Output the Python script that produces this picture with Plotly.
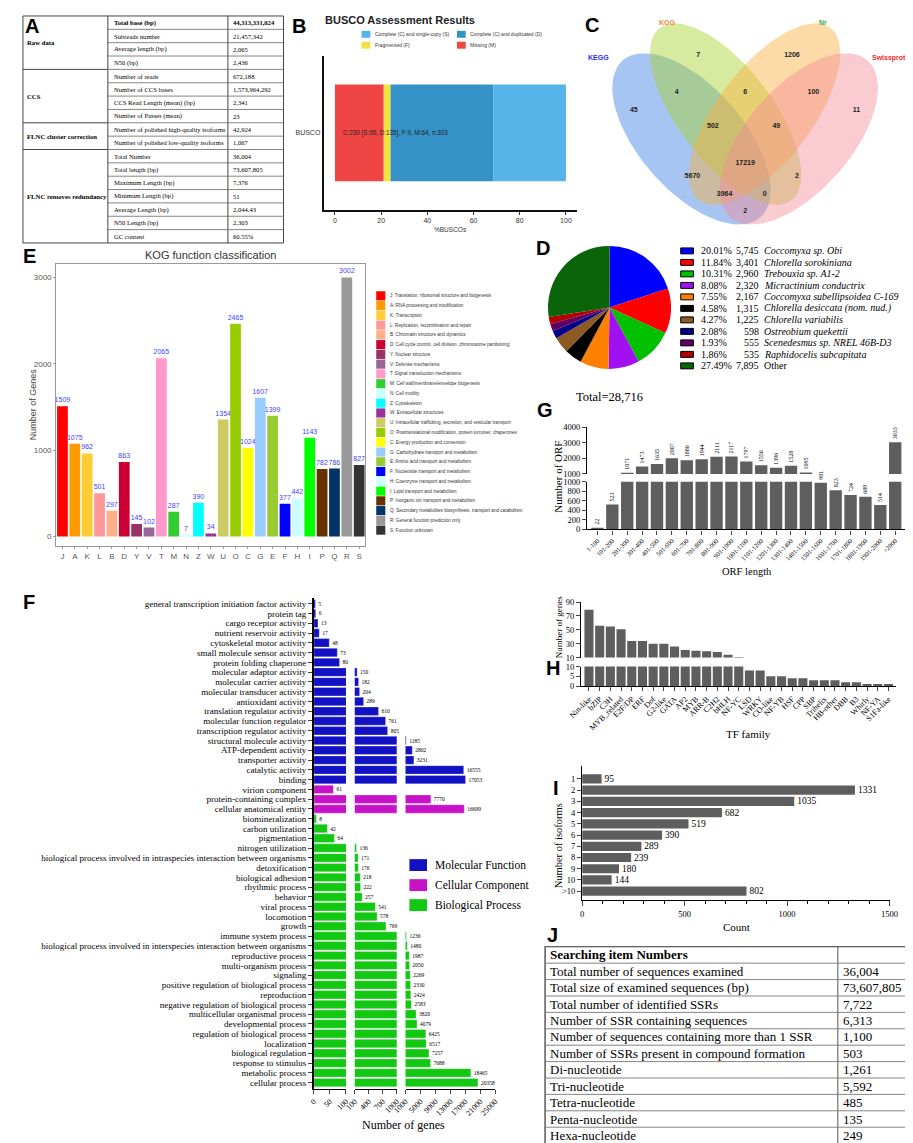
import math
import plotly.graph_objects as go

W, H = 913, 1143
def fx(p): return p / W
def fy(p): return 1 - p / H
SERIF = "Liberation Serif"
SANS = "Liberation Sans"

# ================= DATA =================
# A: sequencing summary
a_groups = ["Raw data", "CCS", "FLNC cluster correction", "FLNC removes redundancy"]
a_group_sizes = [4, 4, 2, 7]
a_items = ["Total base (bp)", "Subreads number", "Average length (bp)", "N50 (bp)",
           "Number of reads", "Number of CCS bases", "CCS Read Length (mean) (bp)", "Number of Passes (mean)",
           "Number of polished high-quality isoforms", "Number of polished low-quality isoforms",
           "Total Number", "Total length (bp)", "Maximum Length (bp)", "Minimum Length (bp)",
           "Average Length (bp)", "N50 Length (bp)", "GC content"]
a_values = ["44,313,331,024", "21,457,342", "2,065", "2,436", "672,188", "1,573,964,292", "2,341", "23",
            "42,924", "1,067", "36,004", "73,607,805", "7,376", "51", "2,044.43", "2,303", "60.55%"]

# B: BUSCO
busco_names = ["Missing (M)", "Fragmented (F)", "Complete (C) and duplicated (D)", "Complete (C) and single-copy (S)"]
busco_counts = [64, 9, 135, 95]
busco_colors = ["#F04545", "#F0E442", "#3492C7", "#56B4E9"]

# C: Venn
venn_sets = ["KEGG", "KOG", "Nr", "Swissprot"]
venn_set_colors = ["#2B2BF0", "#F08A3C", "#3DAA3D", "#F02A2A"]
venn_fill = ["rgba(58,127,229,0.45)", "rgba(167,211,44,0.45)", "rgba(251,175,62,0.45)", "rgba(243,140,151,0.45)"]
venn_region_counts = [45, 7, 1206, 11, 4, 6, 100, 502, 49, 17219, 5670, 2, 3964, 0, 2]

# E: KOG
kog_codes = ["J", "A", "K", "L", "B", "D", "Y", "V", "T", "M", "N", "Z", "W", "U", "O", "C", "G", "E", "F", "H", "I", "P", "Q", "R", "S"]
kog_counts = [1509, 1075, 962, 501, 297, 863, 145, 102, 2065, 287, 7, 390, 34, 1354, 2465, 1024, 1607, 1399, 377, 442, 1143, 782, 786, 3002, 827]
kog_desc = ["Translation, ribosomal structure and biogenesis", "RNA processing and modification", "Transcription",
            "Replication, recombination and repair", "Chromatin structure and dynamics",
            "Cell cycle control, cell division, chromosome partitioning", "Nuclear structure", "Defense mechanisms",
            "Signal transduction mechanisms", "Cell wall/membrane/envelope biogenesis", "Cell motility", "Cytoskeleton",
            "Extracellular structures", "Intracellular trafficking, secretion, and vesicular transport",
            "Posttranslational modification, protein turnover, chaperones", "Energy production and conversion",
            "Carbohydrate transport and metabolism", "Amino acid transport and metabolism",
            "Nucleotide transport and metabolism", "Coenzyme transport and metabolism", "Lipid transport and metabolism",
            "Inorganic ion transport and metabolism", "Secondary metabolites biosynthesis, transport and catabolism",
            "General function prediction only", "Function unknown"]
kog_colors = ["#FF0000", "#FF9900", "#FFCC33", "#FF9999", "#FFB08A", "#CC0033", "#993366", "#996699", "#FF99CC",
              "#33CC33", "#CCFFFF", "#00FFFF", "#993399", "#CCCC66", "#99CC00", "#FFFF00", "#99CCFF", "#99CC33",
              "#0000FF", "#CCFFFF", "#00FF00", "#663300", "#003366", "#999999", "#333333"]

# D: species distribution
d_species = ["Coccomyxa sp. Obi", "Chlorella sorokiniana", "Trebouxia sp. A1-2", "Micractinium conductrix",
             "Coccomyxa subellipsoidea C-169", "Chlorella desiccata (nom. nud.)", "Chlorella variabilis",
             "Ostreobium quekettii", "Scenedesmus sp. NREL 46B-D3", "Raphidocelis subcapitata", "Other"]
d_counts = [5745, 3401, 2960, 2320, 2167, 1315, 1225, 598, 555, 535, 7895]
d_pcts = ["20.01%", "11.84%", "10.31%", "8.08%", "7.55%", "4.58%", "4.27%", "2.08%", "1.93%", "1.86%", "27.49%"]
d_colors = ["#0000FF", "#FF0000", "#00C000", "#A010F0", "#FF8000", "#000000", "#8C5A22", "#00008B",
            "#600060", "#B00000", "#0A640A"]

# G: ORF length
orf_bins = ["1-100", "101-200", "201-300", "301-400", "401-500", "501-600", "601-700", "701-800", "801-900",
            "901-1000", "1001-1100", "1101-1200", "1201-1300", "1301-1400", "1401-1500", "1501-1600",
            "1601-1700", "1701-1800", "1801-1900", "1901-2000", ">2000"]
orf_counts = [22, 523, 1071, 1473, 1635, 2007, 1886, 1944, 2111, 2117, 1797, 1556, 1396, 1528, 1095, 981, 823,
              724, 689, 514, 3033]

# H: TF families
tf_families = ["Nin-like", "bZIP", "C3H", "MYB_related", "E2F/DP", "ERF", "Dof", "G2-like", "GATA", "AP2", "MYB",
               "ARR-B", "C2H2", "bHLH", "NF-YC", "LSD", "WRKY", "CO-like", "NF-YB", "HSF", "CPP", "SBP",
               "Trihelix", "HB-other", "DBB", "B3", "Whirly", "NF-YA", "S1Fa-like"]
tf_counts = [79, 56, 55, 51, 34, 34, 30, 30, 26, 21, 20, 19, 18, 14, 11, 8, 8, 5, 5, 4, 4, 3, 3, 3, 2, 2, 1, 1, 1]

# I: isoforms per gene
iso_cats = ["1", "2", "3", "4", "5", "6", "7", "8", "9", "10", ">10"]
iso_counts = [95, 1331, 1035, 682, 519, 390, 289, 239, 180, 144, 802]

# F: GO classification
go_mf_terms = ["general transcription initiation factor activity", "protein tag", "cargo receptor activity",
               "nutrient reservoir activity", "cytoskeletal motor activity", "small molecule sensor activity",
               "protein folding chaperone", "molecular adaptor activity", "molecular carrier activity",
               "molecular transducer activity", "antioxidant activity", "translation regulator activity",
               "molecular function regulator", "transcription regulator activity", "structural molecule activity",
               "ATP-dependent activity", "transporter activity", "catalytic activity", "binding"]
go_mf_counts = [5, 6, 13, 17, 48, 73, 80, 150, 182, 204, 289, 610, 761, 805, 1185, 2802, 3231, 16555, 17053]
go_cc_terms = ["virion component", "protein-containing complex", "cellular anatomical entity"]
go_cc_counts = [61, 7770, 16699]
go_bp_terms = ["biomineralization", "carbon utilization", "pigmentation", "nitrogen utilization",
               "biological process involved in intraspecies interaction between organisms", "detoxification",
               "biological adhesion", "rhythmic process", "behavior", "viral process", "locomotion", "growth",
               "immune system process", "biological process involved in interspecies interaction between organisms",
               "reproductive process", "multi-organism process", "signaling",
               "positive regulation of biological process", "reproduction",
               "negative regulation of biological process", "multicellular organismal process",
               "developmental process", "regulation of biological process", "localization",
               "biological regulation", "response to stimulus", "metabolic process", "cellular process"]
go_bp_counts = [8, 42, 64, 136, 171, 176, 218, 222, 257, 541, 578, 769, 1236, 1480, 1987, 2050, 2269, 2330, 2424,
                2583, 3820, 4079, 6425, 6517, 7257, 7688, 18465, 20358]
go_groups = ["Molecular Function", "Cellular Component", "Biological Process"]
go_colors = ["#1212C4", "#C812C8", "#12C812"]
go_breaks = [(0, 100), (100, 1000), (1000, 25000)]
go_tickvals = [[0, 50, 100], [100, 400, 700, 1000], [1000, 5000, 9000, 13000, 17000, 21000, 25000]]

# J: SSR table
ssr_header = "Searching item Numbers"
ssr_items = ["Total number of sequences examined", "Total size of examined sequences (bp)",
             "Total number of identified SSRs", "Number of SSR containing sequences",
             "Number of sequences containing more than 1 SSR", "Number of SSRs present in compound formation",
             "Di-nucleotide", "Tri-nucleotide", "Tetra-nucleotide", "Penta-nucleotide", "Hexa-nucleotide"]
ssr_values = ["36,004", "73,607,805", "7,722", "6,313", "1,100", "503", "1,261", "5,592", "485", "135", "249"]

# ================= HELPERS =================
fig = go.Figure()
shapes, annos = [], []

def T(px, py, s, size, color="#000", family=SERIF, xa="left", ya="middle", angle=0):
    annos.append(dict(x=fx(px), y=fy(py), xref="paper", yref="paper", text=s, showarrow=False,
                      font=dict(size=size, color=color, family=family), xanchor=xa, yanchor=ya,
                      textangle=angle, borderpad=0))

def L(x0, y0, x1, y1, color="#555", w=1.0):
    shapes.append(dict(type="line", xref="paper", yref="paper", x0=fx(x0), y0=fy(y0), x1=fx(x1), y1=fy(y1),
                       line=dict(color=color, width=w)))

def R(x0, y0, x1, y1, fill, lc=None, lw=0):
    shapes.append(dict(type="rect", xref="paper", yref="paper", x0=fx(x0), y0=fy(y0), x1=fx(x1), y1=fy(y1),
                       fillcolor=fill, line=dict(color=lc or fill, width=lw)))

def ax(domain, **kw):
    d = dict(domain=domain, showgrid=False, zeroline=False, showline=False, ticks="", fixedrange=True)
    d.update(kw)
    return d

lay = {}

# ================= A: table =================
tax = [2, 89, 212, 269]
tay0, tarh = 3, 13.47
na = len(a_items)
tay1 = tay0 + na * tarh
R(tax[0], tay0, tax[3], tay1, "rgba(0,0,0,0)", "#444", 1)
L(tax[1], tay0, tax[1], tay1, "#444")
L(tax[2], tay0, tax[2], tay1, "#444")
for i in range(1, na):
    L(tax[1], tay0 + i * tarh, tax[3], tay0 + i * tarh, "#666", 0.8)
start = 0
for g, sz in zip(a_groups, a_group_sizes):
    T(5, tay0 + (start + sz / 2) * tarh, f"<b>{g}</b>", 6.7)
    start += sz
    if start < na:
        L(tax[0], tay0 + start * tarh, tax[1], tay0 + start * tarh, "#444")
for i, (it, v) in enumerate(zip(a_items, a_values)):
    yc = tay0 + (i + 0.5) * tarh
    if i == 0:
        it, v = f"<b>{it}</b>", f"<b>{v}</b>"
    T(94, yc, it, 6.6)
    T(216, yc, v, 6.6)

# ================= B: BUSCO =================
btot = sum(busco_counts)
for name, c, col in zip(busco_names, busco_counts, busco_colors):
    fig.add_trace(go.Bar(x=[c / btot * 100], y=["BUSCO"], orientation="h", width=1.0,
                         marker=dict(color=col, line=dict(width=0)), xaxis="x", yaxis="y", name=name))
lay["xaxis"] = ax([fx(310), fx(570)], anchor="y", range=[-4.94, 104.9], showline=True, linecolor="#111",
                  linewidth=1.5, ticks="outside", ticklen=3, tickcolor="#333", tickvals=[0, 20, 40, 60, 80, 100],
                  tickfont=dict(size=7, family=SANS, color="#333"))
lay["yaxis"] = ax([fy(199), fy(43)], anchor="x", type="category", range=[-0.8, 0.8], showline=True,
                  linecolor="#111", linewidth=1.5, tickfont=dict(size=7, family=SANS, color="#333"))
M, F_, D_, S_ = busco_counts
T(329, 121, f"C:{S_ + D_} [S:{S_}, D:{D_}], F:{F_}, M:{M}, n:{btot}", 6.3, "#222", SANS)
T(440, 218, "%BUSCOs", 6.5, "#333", SANS, xa="center")
T(310, 7, "<b>BUSCO Assessment Results</b>", 11, "#222", SANS)
for k, (bx, by) in zip([3, 2, 1, 0], [(349, 21.5), (446.7, 21.5), (349, 32.5), (446.7, 32.5)]):
    R(bx, by - 3.5, bx + 9, by + 3.5, busco_colors[k])
    T(bx + 12.5, by, busco_names[k], 5, "#333", SANS)

# ================= C: Venn =================
venn_ellipses = [(687, 127, 106, 53, 48), (722, 102, 110, 48, 52), (762, 102, 110, 48, 128), (797, 127, 106, 53, 132)]
venn_label_pos = [(592, 45, "center"), (662, 10, "center"), (822, 10, "center"), (908, 45, "right")]
venn_region_pos = [(628, 98), (694, 43), (790, 43), (856, 98), (672, 80), (742, 80), (812, 80), (709, 114),
                   (774, 114), (742, 152), (688, 165), (795, 165), (721, 183), (762, 183), (742, 200)]
for (cx, cy, a, b, th), col, nm in zip(venn_ellipses, venn_fill, venn_sets):
    t = [2 * math.pi * i / 120 for i in range(121)]
    c, s = math.cos(math.radians(th)), math.sin(math.radians(th))
    xs = [cx + a * c * math.cos(u) - b * s * math.sin(u) for u in t]
    ys = [cy + a * s * math.cos(u) + b * c * math.sin(u) for u in t]
    fig.add_trace(go.Scatter(x=xs, y=ys, mode="lines", fill="toself", fillcolor=col, line=dict(width=0),
                             xaxis="x2", yaxis="y2", name=nm, hoverinfo="skip"))
fig.add_trace(go.Scatter(x=[p[0] for p in venn_region_pos], y=[p[1] for p in venn_region_pos], mode="text",
                         text=[f"<b>{v}</b>" for v in venn_region_counts], cliponaxis=False,
                         textfont=dict(size=7, family=SANS, color="#222"), xaxis="x2", yaxis="y2"))
for nm, col, (px, py, xa) in zip(venn_sets, venn_set_colors, venn_label_pos):
    T(px, py, f"<b>{nm}</b>", 7, col, SANS, xa=xa)
lay["xaxis2"] = ax([fx(600), 1], anchor="y2", range=[600, 913], visible=False)
lay["yaxis2"] = ax([fy(215), 1], anchor="x2", range=[215, 0], visible=False)

# ================= E: KOG =================
fig.add_trace(go.Bar(x=kog_codes, y=kog_counts, width=0.87, marker=dict(color=kog_colors, line=dict(width=0)),
                     text=[str(v) for v in kog_counts], textposition="outside", constraintext="none",
                     textfont=dict(size=7, family=SANS, color="#3F3FFF"), cliponaxis=False,
                     xaxis="x3", yaxis="y3"))
lay["xaxis3"] = ax([fx(36), fx(353)], anchor="y3", type="category", range=[-0.51, 24.51], showline=True,
                   mirror=True, linecolor="#999", linewidth=1, ticks="outside", ticklen=2, tickcolor="#999",
                   tickfont=dict(size=8, family=SANS, color="#555"), tickmode="array", tickvals=kog_codes)
lay["yaxis3"] = ax([fy(538), fy(253)], anchor="x3", range=[-115, 3161], showline=True, mirror=True,
                   linecolor="#999", linewidth=1, ticks="outside", ticklen=2, tickcolor="#999",
                   tickvals=[0, 1000, 2000, 3000], tickfont=dict(size=8, family=SANS, color="#555"))
T(194, 244, "KOG function classification", 11, "#333", SANS, xa="center")
T(12, 395, "Number of Genes", 9, "#444", SANS, xa="center", angle=-90)
for i, (code, desc, col) in enumerate(zip(kog_codes, kog_desc, kog_colors)):
    yc = 285.3 + i * 9.85
    R(364, yc - 4.6, 373.3, yc + 4.6, col)
    T(377.3, yc, f"{code}: {desc}", 4.6, "#333", SANS)

# ================= D: pie =================
fig.add_trace(go.Pie(values=d_counts, labels=d_species, sort=False, direction="clockwise", rotation=0,
                     marker=dict(colors=d_colors, line=dict(width=0)), textinfo="none", showlegend=False,
                     domain=dict(x=[fx(540), fx(666)], y=[fy(360), fy(234)])))
T(603, 387, f"Total={sum(d_counts):,}", 12.5, "#000", SERIF, xa="center")
for i, (sp, c, p, col) in enumerate(zip(d_species, d_counts, d_pcts, d_colors)):
    yc = 240 + i * 11.6
    R(676, yc - 3, 689, yc + 3, col, "#000", 1)
    T(695.5, yc, p, 10)
    T(757, yc, f"{c:,}", 10, xa="right")
    T(760, yc, sp if sp == "Other" else f"<i>{sp}</i>", 10)

# ================= G: ORF length (broken axis) =================
gbar = "#5E5E5E"
fig.add_trace(go.Bar(x=orf_bins, y=orf_counts, width=0.83, marker=dict(color=gbar, line=dict(width=0)),
                     text=[str(v) if v > 1000 else "" for v in orf_counts], textposition="outside",
                     textangle=-90, constraintext="none", cliponaxis=False,
                     textfont=dict(size=6, family=SERIF, color="#000"), xaxis="x4", yaxis="y4"))
fig.add_trace(go.Bar(x=orf_bins, y=orf_counts, width=0.83, marker=dict(color=gbar, line=dict(width=0)),
                     text=[str(v) if v <= 1000 else "" for v in orf_counts], textposition="outside",
                     textangle=-90, constraintext="none", cliponaxis=False,
                     textfont=dict(size=6, family=SERIF, color="#000"), xaxis="x5", yaxis="y5"))
gdom = [fx(580), fx(908)]
lay["xaxis4"] = ax(gdom, anchor="y4", type="category", range=[-0.7, 20.8], showticklabels=False)
lay["yaxis4"] = ax([fy(465), fy(418)], anchor="x4", range=[1000, 4000], showline=True, linecolor="#000",
                   linewidth=1.3, ticks="outside", ticklen=4, tickvals=[1000, 2000, 3000, 4000],
                   tickfont=dict(size=8.5, family=SERIF, color="#000"))
lay["xaxis5"] = ax(gdom, anchor="y5", type="category", range=[-0.7, 20.8], showline=True, linecolor="#000",
                   linewidth=1.3, ticks="outside", ticklen=4, tickangle=-45, tickmode="array", tickvals=orf_bins,
                   tickfont=dict(size=6.5, family=SERIF, color="#000"))
lay["yaxis5"] = ax([fy(521), fy(473)], anchor="x5", range=[0, 1000], showline=True, linecolor="#000",
                   linewidth=1.3, ticks="outside", ticklen=4, tickvals=[0, 200, 400, 600, 800, 1000],
                   tickfont=dict(size=8.5, family=SERIF, color="#000"))
T(550, 468, "Number of ORF", 11, xa="center", angle=-90)
T(744, 563, "ORF length", 10.5, xa="center")

# ================= H: TF family (broken axis) =================
fig.add_trace(go.Bar(x=tf_families, y=tf_counts, width=0.85, marker=dict(color=gbar, line=dict(width=0)),
                     xaxis="x6", yaxis="y6"))
fig.add_trace(go.Bar(x=tf_families, y=tf_counts, width=0.85, marker=dict(color=gbar, line=dict(width=0)),
                     xaxis="x7", yaxis="y7"))
hdom = [fx(574), fx(897)]
lay["xaxis6"] = ax(hdom, anchor="y6", type="category", range=[-0.73, 28.74], showticklabels=False)
lay["yaxis6"] = ax([fy(650.3), fy(594.3)], anchor="x6", range=[10, 90], showline=True, linecolor="#000",
                   linewidth=1.3, ticks="outside", ticklen=4, tickvals=[10, 30, 50, 70, 90],
                   tickfont=dict(size=8.5, family=SERIF, color="#000"))
lay["xaxis7"] = ax(hdom, anchor="y7", type="category", range=[-0.73, 28.74], showline=True, linecolor="#000",
                   linewidth=1.3, ticks="outside", ticklen=4, tickangle=-45, tickmode="array",
                   tickvals=tf_families, tickfont=dict(size=8, family=SERIF, color="#000"))
lay["yaxis7"] = ax([fy(679), fy(659.3)], anchor="x7", range=[0, 10], showline=True, linecolor="#000",
                   linewidth=1.3, ticks="outside", ticklen=4, tickvals=[0, 5, 10],
                   tickfont=dict(size=8.5, family=SERIF, color="#000"))
T(551, 620, "Number of genes", 9, xa="center", angle=-90)
T(745, 727, "TF family", 11, xa="center")

# ================= I: isoforms =================
fig.add_trace(go.Bar(x=iso_counts, y=iso_cats, orientation="h", width=0.82,
                     marker=dict(color=gbar, line=dict(width=0)), text=[str(v) for v in iso_counts],
                     textposition="outside", constraintext="none", cliponaxis=False,
                     textfont=dict(size=9.5, family=SERIF, color="#000"), xaxis="x8", yaxis="y8"))
lay["xaxis8"] = ax([fx(575), fx(890)], anchor="y8", range=[0, 1500], showline=True, linecolor="#000",
                   linewidth=1.3, ticks="outside", ticklen=5, tickvals=[0, 500, 1000, 1500],
                   minor=dict(dtick=100, ticklen=3, ticks="outside", tickcolor="#000"),
                   tickfont=dict(size=8.5, family=SERIF, color="#000"))
lay["yaxis8"] = ax([fy(895), fy(760)], anchor="x8", type="category", range=[10.8, -1.12], showline=True,
                   linecolor="#000", linewidth=1.3, ticks="outside", ticklen=4, tickmode="array",
                   tickvals=iso_cats, tickfont=dict(size=8.5, family=SERIF, color="#000"))
T(551, 840, "Number of isoforms", 10.5, xa="center", angle=-90)
T(733, 922, "Count", 11, xa="center")

# ================= F: GO (broken x axis) =================
go_terms = go_mf_terms + go_cc_terms + go_bp_terms
go_sets = [(go_mf_terms, go_mf_counts), (go_cc_terms, go_cc_counts), (go_bp_terms, go_bp_counts)]
fxd = [(300, 333), (342, 385), (394, 486)]
xnames = ["x9", "x10", "x11"]
for si, ((lo, hi), xn) in enumerate(zip(go_breaks, xnames)):
    for (terms, counts), col, gname in zip(go_sets, go_colors, go_groups):
        fig.add_trace(go.Bar(x=counts, y=terms, orientation="h", width=0.86,
                             marker=dict(color=col, line=dict(width=0.4, color="rgba(255,255,255,0.7)")),
                             text=[str(v) if lo < v <= hi or (si == 0 and v <= hi) else "" for v in counts],
                             textposition="outside", constraintext="none", cliponaxis=False,
                             textfont=dict(size=5.5, family=SERIF, color="#000"),
                             xaxis=xn, yaxis="y9", name=gname))
    key = "xaxis" + xn[1:]
    lay[key] = ax([fx(fxd[si][0]), fx(fxd[si][1])], anchor="y9", range=[lo, hi], showline=True,
                  linecolor="#000", linewidth=1.3, ticks="outside", ticklen=4, tickangle=-45,
                  tickmode="array", tickvals=go_tickvals[si], ticktext=[str(v) for v in go_tickvals[si]],
                  tickfont=dict(size=8, family=SERIF, color="#000"))
ng = len(go_terms)
lay["yaxis9"] = ax([fy(1085), fy(590)], anchor="x9", type="category", range=[ng - 1 + 0.6, -0.6],
                   showline=True, linecolor="#000", linewidth=1.5, ticks="outside", ticklen=4,
                   tickmode="array", tickvals=go_terms, tickfont=dict(size=9, family=SERIF, color="#000"))
T(392, 1122, "Number of genes", 12, xa="center")
for k, (gname, col) in enumerate(zip(go_groups, go_colors)):
    yc = 859.6 + k * 20.2
    R(398, yc - 6, 416, yc + 6, col)
    T(423, yc, gname, 11.5)

# ================= J: SSR table =================
tjx = [537, 837, 910]
tjy0, tjrh = 942, 16.55
rows = [(f"<b>{ssr_header}</b>", "")] + list(zip(ssr_items, ssr_values))
tjy1 = tjy0 + len(rows) * tjrh
R(tjx[0], tjy0, tjx[2], tjy1, "rgba(0,0,0,0)", "#333", 1.2)
L(tjx[1], tjy0, tjx[1], tjy1, "#555")
for i, (it, v) in enumerate(rows):
    yc = tjy0 + (i + 0.5) * tjrh
    if i > 0:
        L(tjx[0], tjy0 + i * tjrh, tjx[2], tjy0 + i * tjrh, "#777", 0.9)
    T(541, yc, it, 13)
    T(841, yc, v, 13)

# ================= panel letters =================
for letter, (px, py) in zip("ABCDEFGHIJ", [(11, 13.5), (285, 13.5), (585, 12), (535, 237), (9, 245),
                                          (8, 594), (537, 400), (545, 661), (548, 782), (545, 930)]):
    T(px, py, f"<b>{letter}</b>", 20, "#000", SANS, xa="center")

fig.update_layout(width=W, height=H, margin=dict(l=0, r=0, t=0, b=0), autosize=False,
                  paper_bgcolor="white", plot_bgcolor="rgba(0,0,0,0)", showlegend=False,
                  barmode="relative", bargap=0.1, shapes=shapes, annotations=annos, **lay)
fig.write_html("out.html")
